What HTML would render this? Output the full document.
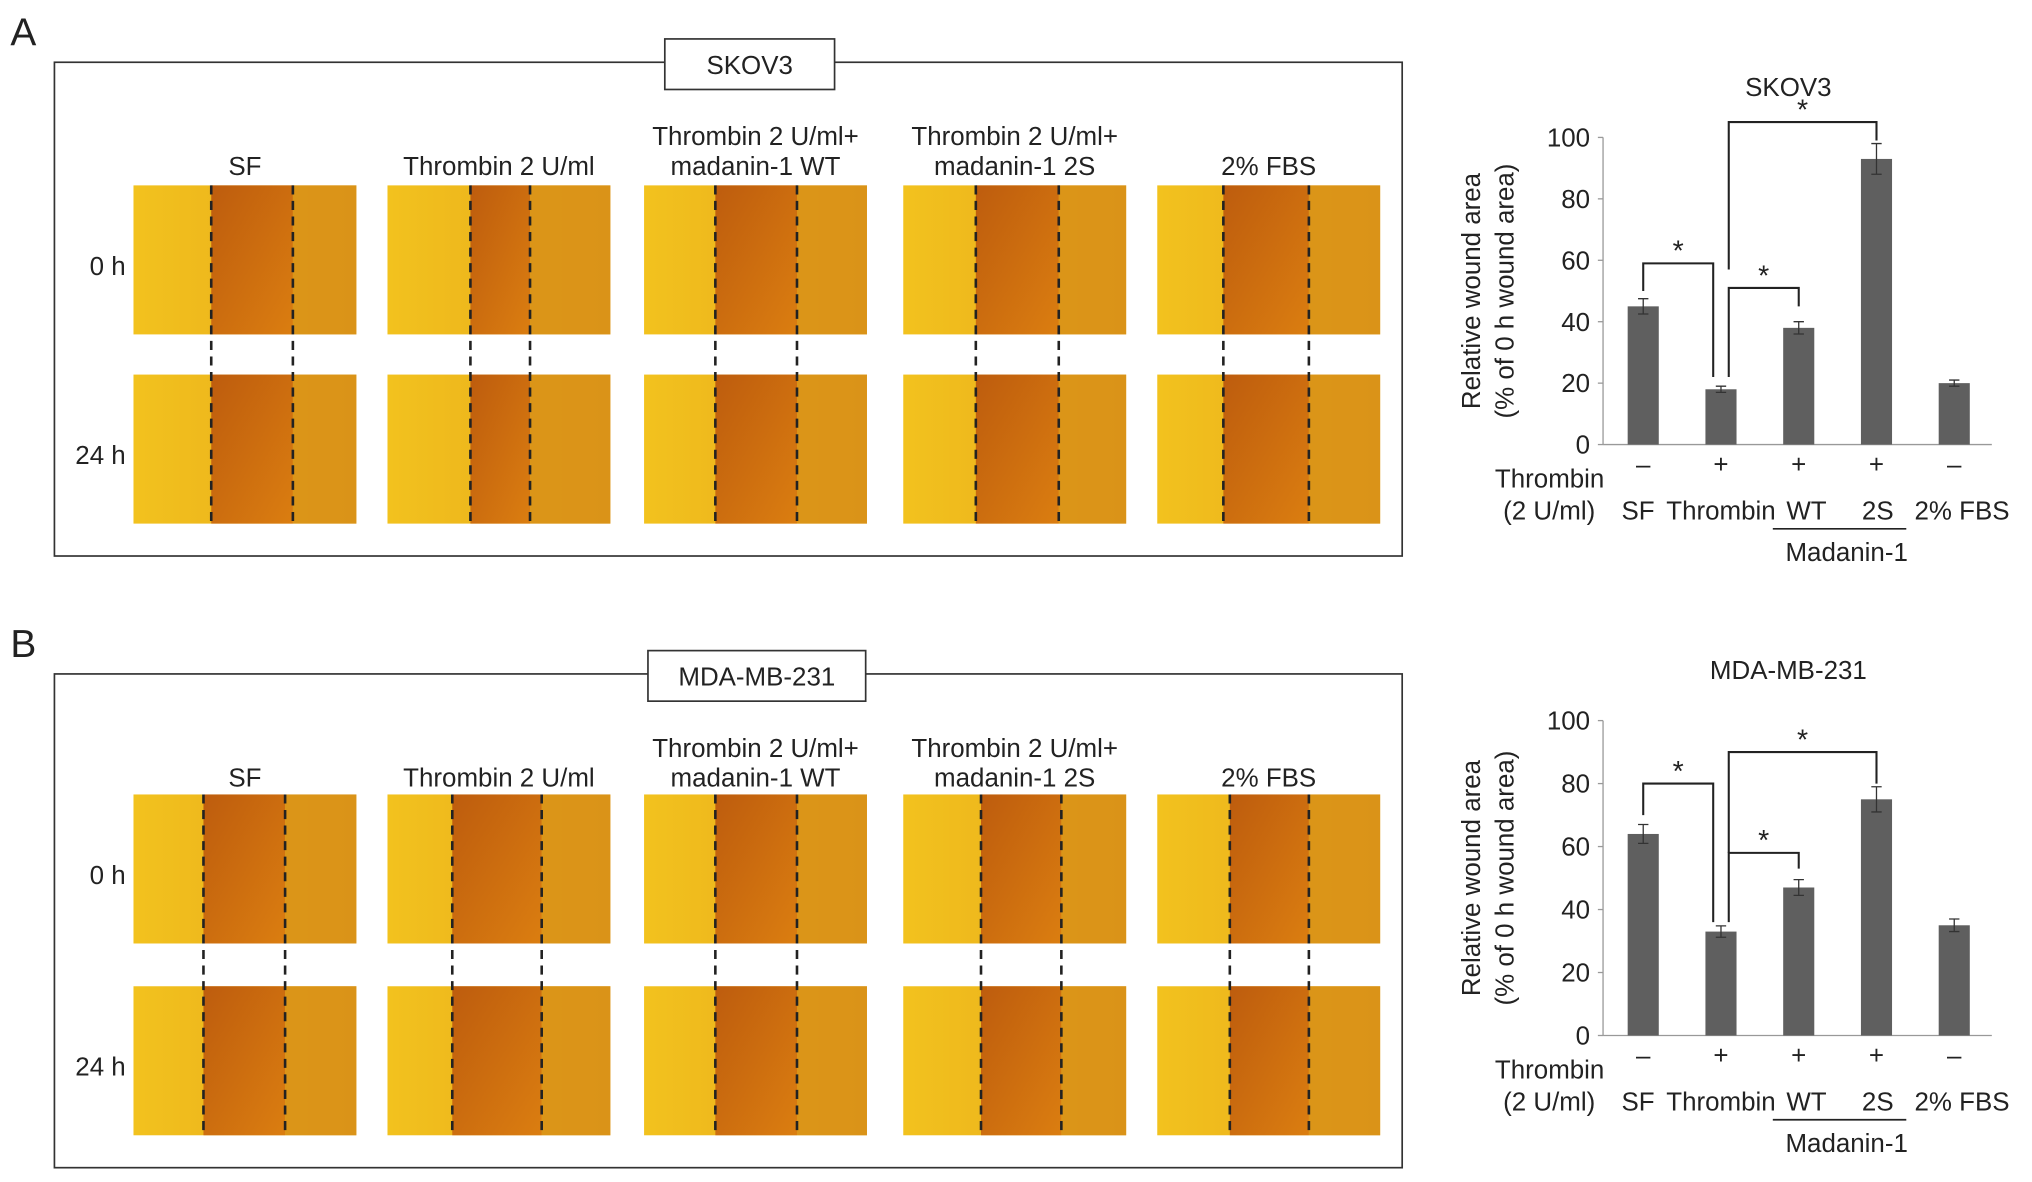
<!DOCTYPE html>
<html><head><meta charset="utf-8"><style>
html,body{margin:0;padding:0;background:#fff}
svg{display:block}
text{font-family:"Liberation Sans",Arial,sans-serif;fill:#222}
</style></head><body>
<svg id="fig" width="2032" height="1182" viewBox="0 0 1568 912" xmlns="http://www.w3.org/2000/svg">
<defs>
<linearGradient id="wound" x1="0" x2="1" y1="0" y2="0">
<stop offset="0" stop-color="#f2c21e"/><stop offset="1" stop-color="#e8a81a"/>
</linearGradient>
<linearGradient id="gap" x1="0" x2="1" y1="0" y2="1">
<stop offset="0" stop-color="#b8520c"/><stop offset="1" stop-color="#d9780f"/>
</linearGradient>
</defs>
<g id="root"></g>
</svg>
<script>
// ---- chart data ----
const categories = ["SF","Thrombin","WT","2S","2% FBS"];
const thrombinSigns = ["\u2013","+","+","+","\u2013"];
const yTicks = [0,20,40,60,80,100];
const skovValues = [45,18,38,93,20];
const skovErrors = [2.5,1,2,5,1];
const mdaValues = [64,33,47,75,35];
const mdaErrors = [3,1.8,2.5,4,2];

const NS="http://www.w3.org/2000/svg";
const root=document.getElementById('root');
function el(tag,attrs,parent,txt){const e=document.createElementNS(NS,tag);for(const k in attrs)e.setAttribute(k,attrs[k]);if(txt!==undefined)e.textContent=txt;(parent||root).appendChild(e);return e;}

// ---- photo panels ----
function panelBlock(label,fy,title,titleBox,cols,rowsY,rowLabels,dashes){
  const g=el('g',{});
  
  
  const t=el('text',{x:8,y:fy-13,'font-size':30},g,label);
  
  
  const fr=el('rect',{x:42,y:fy,width:1040,height:381,fill:'none',stroke:'#333','stroke-width':1.3},g);
  
  
  const tb=el('rect',{x:titleBox[0],y:fy-18,width:titleBox[1],height:39,fill:'#fff',stroke:'#333','stroke-width':1.3},g);
  
  
  const tt=el('text',{x:titleBox[0]+titleBox[1]/2,y:fy+9,'font-size':20,'text-anchor':'middle'},g,title);
  
  
  const xs=[103,299,497,697,893], w=172, h=115;
  cols.forEach((c,i)=>{
    const cx=xs[i]+w/2;
    c.forEach((line,j)=>{
      const ct=el('text',{x:cx,y:fy+64+(c.length===1?23:j*23),'font-size':20,'text-anchor':'middle'},g,line);
      
      
    });
    const d=dashes[i];
    rowsY.forEach((ry,r)=>{
      const img=el('rect',{x:xs[i],y:ry,width:w,height:h,fill:'url(#wound)'},g);
      
      
      const band=el('rect',{x:d[0],y:ry,width:d[1]-d[0],height:h,fill:'url(#gap)',opacity:0.9},g);
      
      
      const right=el('rect',{x:d[1],y:ry,width:xs[i]+w-d[1],height:h,fill:'#d68c18',opacity:0.75},g);
      
      
    });
    d.forEach(dx=>{
      const l=el('line',{x1:dx,x2:dx,y1:rowsY[0],y2:rowsY[1]+h,stroke:'#222','stroke-width':2,'stroke-dasharray':'7,5'},g);
      
      
    });
  });
  rowLabels.forEach((rl,k)=>{
    const r=el('text',{x:97,y:rowsY[k]+69,'font-size':20,'text-anchor':'end'},g,rl);
    
    
  });
}
panelBlock('A',48,'SKOV3',[513,131],[["SF"],["Thrombin 2 U/ml"],["Thrombin 2 U/ml+","madanin-1 WT"],["Thrombin 2 U/ml+","madanin-1 2S"],["2% FBS"]],[143,289],["0 h","24 h"],[[163,226],[363,409],[552,615],[753,817],[944,1010]]);
panelBlock('B',520,'MDA-MB-231',[500,168],[["SF"],["Thrombin 2 U/ml"],["Thrombin 2 U/ml+","madanin-1 WT"],["Thrombin 2 U/ml+","madanin-1 2S"],["2% FBS"]],[613,761],["0 h","24 h"],[[157,220],[349,418],[552,615],[757,819],[949,1010]]);

// ---- bar charts ----
function chart(name,title,values,errors,y0,y100,sig){
  const g=el('g',{});
  
  
  const axX=1237, xEnd=1537;
  const yS=v=>y0-(y0-y100)*v/100;
  const xS=i=>1268+i*60;
  const ax=el('line',{x1:axX,x2:axX,y1:y100,y2:y0,stroke:'#999','stroke-width':1},g);
  
  
  const bx=el('line',{x1:axX,x2:xEnd,y1:y0,y2:y0,stroke:'#999','stroke-width':1},g);
  
  
  yTicks.forEach(v=>{
    const tk=el('line',{x1:axX-4,x2:axX,y1:yS(v),y2:yS(v),stroke:'#999'},g);
    
    
    const tl=el('text',{x:axX-10,y:yS(v)+7,'font-size':20,'text-anchor':'end'},g,String(v));
    
    
  });
  const cy=(y0+y100)/2;
  const yt=el('text',{x:1142,y:cy,'font-size':20,'text-anchor':'middle',transform:`rotate(-90 1142 ${cy})`},g,'Relative wound area');
  
  
  const yt2=el('text',{x:1168,y:cy,'font-size':20,'text-anchor':'middle',transform:`rotate(-90 1168 ${cy})`},g,'(% of 0 h wound area)');
  
  
  const ti=el('text',{x:1380,y:y100-32,'font-size':20,'text-anchor':'middle'},g,title);
  
  
  values.forEach((v,i)=>{
    const b=el('rect',{x:xS(i)-12,y:yS(v),width:24,height:y0-yS(v),fill:'#5f5f5f'},g);
    
    
    const e=errors[i];
    const eb=el('path',{d:`M${xS(i)} ${yS(v+e)}V${yS(v-e)}M${xS(i)-4} ${yS(v+e)}H${xS(i)+4}M${xS(i)-4} ${yS(v-e)}H${xS(i)+4}`,stroke:'#333','stroke-width':1,fill:'none'},g);
    
    
    const s=el('text',{x:xS(i),y:y0+22,'font-size':20,'text-anchor':'middle'},g,thrombinSigns[i]);
    
    
  });
  const th=el('text',{x:1238,y:y0+33,'font-size':20,'text-anchor':'end'},g,'Thrombin');
  
  
  const th2=el('text',{x:1231,y:y0+58,'font-size':20,'text-anchor':'end'},g,'(2 U/ml)');
  
  
  const labX=[1264,1328,1394,1449,1514];
  categories.forEach((c,i)=>{
    const cl=el('text',{x:labX[i],y:y0+58,'font-size':20,'text-anchor':'middle'},g,c);
    
    
  });
  const ml=el('line',{x1:1368,x2:1471,y1:y0+65,y2:y0+65,stroke:'#222','stroke-width':1.3},g);
  
  
  const mt=el('text',{x:1425,y:y0+90,'font-size':20,'text-anchor':'middle'},g,'Madanin-1');
  
  
  sig.forEach(s=>{
    const x1=xS(s[0])+(s[0]===1?6:0), x2=xS(s[1])-(s[1]===1?6:0);
    const top=yS(s[2]);
    const p=el('path',{d:`M${x1} ${yS(s[3])}V${top}H${x2}V${yS(s[4])}`,stroke:'#222','stroke-width':1.6,fill:'none'},g);
    
    
    const st=el('text',{x:(x1+x2)/2,y:top-2,'font-size':22,'text-anchor':'middle'},g,'*');
    
    
  });
}
chart('chart-skov3','SKOV3',skovValues,skovErrors,343,106,[[0,1,59,50,22],[1,2,51,22,45],[1,3,105,57,99]]);
chart('chart-mda-mb-231','MDA-MB-231',mdaValues,mdaErrors,799,556,[[0,1,80,70,36],[1,2,58,36,53],[1,3,90,58,80]]);
</script>
</body></html>
